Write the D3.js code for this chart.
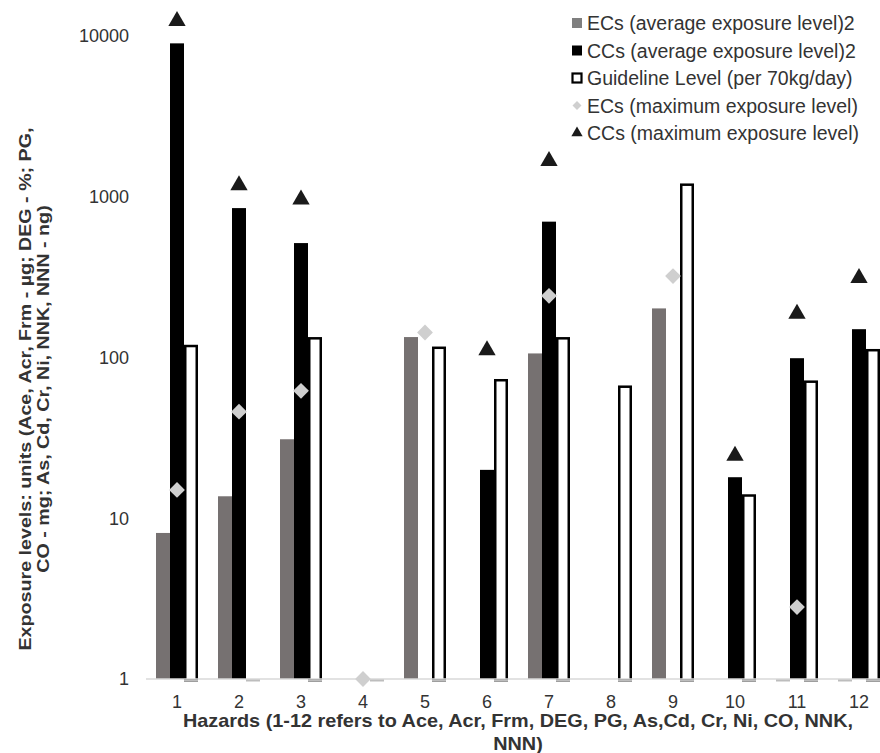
<!DOCTYPE html>
<html>
<head>
<meta charset="utf-8">
<script src="https://cdn.jsdelivr.net/npm/d3@7"></script>
<style>
  body { margin: 0; background: #fff; }
  text { font-family: "Liberation Sans", Arial, sans-serif; }
</style>
</head>
<body>
<div id="my_dataviz"></div>
<script>
// hazards 1..12
var hazards = ["1", "2", "3", "4", "5", "6", "7", "8", "9", "10", "11", "12"]
var ecAvg = [8.1, 13.7, 31, null, 134, null, 106, null, 202, null, 1, 1]
var ccAvg = [9000, 850, 515, null, null, 20, 700, null, null, 18, 99, 150]
var guideline = [120, 1, 134, 1, 117, 73.5, 134, 67, 1210, 14.1, 72, 113]
var ecMax = [15, 46, 62, 1, 143, null, 242, null, 321, null, 2.8, null]
var ccMax = [12400, 1180, 960, null, null, 111, 1670, null, null, 24.5, 187, 312]
var yTicks = [1, 10, 100, 1000, 10000]

var legendItems = [
  {label: "ECs (average exposure level)2", kind: "ecAvg"},
  {label: "CCs (average exposure level)2", kind: "ccAvg"},
  {label: "Guideline Level (per 70kg/day)", kind: "guide"},
  {label: "ECs (maximum exposure level)", kind: "ecMax"},
  {label: "CCs (maximum exposure level)", kind: "ccMax"}
]

var width = 880, height = 753
var grey = "#767171", light = "#cfcfcf", ink = "#333"

var svg = d3.select("#my_dataviz").append("svg")
  .attr("width", width).attr("height", height)

// category scale runs past the right edge, like the original crop
var x = d3.scaleBand().domain(hazards).range([146, 890]).padding(0)
var y = d3.scaleLog().domain([1, 10000]).range([679, 36])
var bw = 14

function barData(arr, off) {
  return hazards.map(function(h, i) { return {h: h, v: arr[i], off: off} })
    .filter(function(d) { return d.v != null })
}
function cx(d) { return x(d.h) + x.bandwidth() / 2 }

// y axis labels
var yAxis = d3.axisLeft(y).tickValues(yTicks).tickSize(0).tickPadding(0)
  .tickFormat(d3.format("d"))
var gy = svg.append("g").attr("transform", "translate(129,0)").call(yAxis)
gy.select(".domain").remove()
gy.selectAll("text").style("font-size", "18px").attr("fill", ink)
  .style("font-family", "'Liberation Sans', Arial, sans-serif")

// EC average bars (grey)
svg.selectAll(".ec").data(barData(ecAvg, -21)).enter().append("rect")
  .attr("x", function(d) { return cx(d) + d.off })
  .attr("y", function(d) { return y(d.v) })
  .attr("width", bw)
  .attr("height", function(d) { return y(1) - y(d.v) })
  .attr("fill", grey)

// CC average bars (black)
svg.selectAll(".cc").data(barData(ccAvg, -7)).enter().append("rect")
  .attr("x", function(d) { return cx(d) + d.off })
  .attr("y", function(d) { return y(d.v) })
  .attr("width", bw)
  .attr("height", function(d) { return y(1) - y(d.v) })
  .attr("fill", "#000")

// guideline bars (open, black outline)
svg.selectAll(".gl").data(barData(guideline, 7).filter(function(d) { return d.v > 1 }))
  .enter().append("rect")
  .attr("x", function(d) { return cx(d) + d.off + 1.25 })
  .attr("y", function(d) { return y(d.v) + 1.25 })
  .attr("width", bw - 2.5)
  .attr("height", function(d) { return y(1) - y(d.v) })
  .attr("fill", "#fff").attr("stroke", "#000").attr("stroke-width", 2.5)

// x axis line
svg.append("line").attr("x1", 146).attr("x2", 890)
  .attr("y1", y(1)).attr("y2", y(1))
  .attr("stroke", "#d9d9d9").attr("stroke-width", 1.5)

// small grey dashes at the base of open bars and of bars at 1
var dashes = barData(guideline, 7).concat(barData(ecAvg, -21).filter(function(d) { return d.v <= 1 }))
svg.selectAll(".dash").data(dashes).enter().append("rect")
  .attr("x", function(d) { return cx(d) + d.off })
  .attr("y", y(1) + 0.5)
  .attr("width", bw).attr("height", 2)
  .attr("fill", "#bdbdbd")

// x tick labels
var xAxis = d3.axisBottom(x).tickSize(0).tickPadding(0)
var gx = svg.append("g").attr("transform", "translate(0,695)").call(xAxis)
gx.select(".domain").remove()
gx.selectAll("text").style("font-size", "18px").attr("fill", ink)
  .style("font-family", "'Liberation Sans', Arial, sans-serif")

// markers
var diamond = d3.symbol().type(d3.symbolSquare).size(125)
var tri = d3.symbol().type(d3.symbolTriangle).size(130)

svg.selectAll(".dm").data(barData(ecMax, 0)).enter().append("path")
  .attr("d", diamond)
  .attr("transform", function(d) { return "translate(" + cx(d) + "," + y(d.v) + ") rotate(45)" })
  .attr("fill", light)

svg.selectAll(".tr").data(barData(ccMax, 0)).enter().append("path")
  .attr("d", tri)
  .attr("transform", function(d) { return "translate(" + cx(d) + "," + y(d.v) + ")" })
  .attr("fill", "#1a1a1a")

// legend
var lg = svg.append("g").attr("transform", "translate(577,23)")
legendItems.forEach(function(it, i) {
  var g = lg.append("g").attr("transform", "translate(0," + (i * 27.5) + ")")
  if (it.kind == "ecAvg") g.append("rect").attr("x", -5).attr("y", -5).attr("width", 10).attr("height", 10).attr("fill", "#7f7f7f")
  if (it.kind == "ccAvg") g.append("rect").attr("x", -5).attr("y", -5).attr("width", 10).attr("height", 10).attr("fill", "#000")
  if (it.kind == "guide") g.append("rect").attr("x", -4.5).attr("y", -4.5).attr("width", 9).attr("height", 9).attr("fill", "#fff").attr("stroke", "#000").attr("stroke-width", 2.2)
  if (it.kind == "ecMax") g.append("path").attr("d", d3.symbol().type(d3.symbolSquare).size(40)).attr("transform", "rotate(45)").attr("fill", light)
  if (it.kind == "ccMax") g.append("path").attr("d", d3.symbol().type(d3.symbolTriangle).size(55)).attr("fill", "#1a1a1a")
  g.append("text").attr("x", 10).attr("dy", "0.36em")
    .style("font-size", "19.5px").attr("fill", ink).text(it.label)
})

// stretch a text run along its length by a factor
function stretch(sel, f) {
  sel.each(function() {
    var n = this.getComputedTextLength()
    d3.select(this).attr("textLength", n * f).attr("lengthAdjust", "spacingAndGlyphs")
  })
}

// axis titles
var xt1 = svg.append("text").attr("x", 518).attr("y", 727)
  .attr("text-anchor", "middle").style("font-size", "18.5px").style("font-weight", "bold").attr("fill", ink)
  .text("Hazards (1-12 refers to Ace, Acr, Frm, DEG, PG, As,Cd, Cr, Ni, CO, NNK,")
var xt2 = svg.append("text").attr("x", 518).attr("y", 750)
  .attr("text-anchor", "middle").style("font-size", "18.5px").style("font-weight", "bold").attr("fill", ink)
  .text("NNN)")
var fx = 670 / xt1.node().getComputedTextLength()
stretch(xt1, fx); stretch(xt2, fx)

var yt = svg.append("text").attr("transform", "translate(31,389) rotate(-90)")
  .attr("text-anchor", "middle").style("font-size", "16.5px").style("font-weight", "bold").attr("fill", ink)
var yl1 = yt.append("tspan").attr("x", 0).attr("y", 0).text("Exposure levels: units (Ace, Acr, Frm - µg; DEG - %; PG,")
var yl2 = yt.append("tspan").attr("x", 0).attr("y", 18).text("CO - mg; As, Cd, Cr, Ni, NNK, NNN - ng)")
var fy = 523 / yl1.node().getComputedTextLength()
stretch(yl1, fy); stretch(yl2, fy)
</script>
</body>
</html>
